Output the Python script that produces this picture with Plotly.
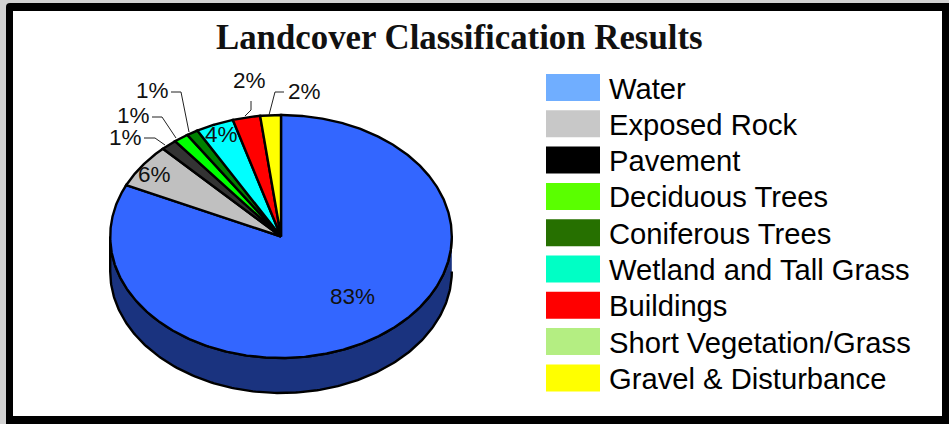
import numpy as np
import plotly.graph_objects as go

# --- data ---
categories = ["Water", "Exposed Rock", "Pavement", "Deciduous Trees", "Coniferous Trees",
              "Wetland and Tall Grass", "Buildings", "Short Vegetation/Grass", "Gravel & Disturbance"]
shares = [82.0, 5.9, 1.5, 1.4, 1.1, 3.6, 2.6, 0.0, 1.95]
share_labels = ["83%", "6%", "1%", "1%", "1%", "4%", "2%", "", "2%"]
slice_colors = ["#3366FF", "#C0C0C0", "#333333", "#00FF00", "#008000", "#00FFFF", "#FF0000", "#CCFFCC", "#FFFF00"]
legend_colors = ["#70AEFF", "#C8C8C8", "#000000", "#5AFF00", "#267000", "#00FFC5", "#FF0000", "#B4EE82", "#FFFF00"]
side_color = "#1A337F"
title_text = "Landcover Classification Results"

# --- layout constants (pixels) ---
W, H = 949, 424
CX, CY, RX, RY, DEPTH = 281.0, 236.5, 170.8, 121.5, 35.0
LABEL_POS = {0: (352, 296), 1: (154, 174), 2: (125, 137), 3: (133, 115), 4: (152, 90),
             5: (221, 134), 6: (249, 80), 8: (304, 91)}
LEADERS = {2: [(144, 138), (155, 138), (165, 145)],
           3: [(152, 117), (162, 117), (176, 138)],
           4: [(171, 92), (181, 92), (189, 132)],
           6: [(251, 101), (251, 110), (245, 116)],
           8: [(284, 92), (275, 92), (269, 115)]}

fig = go.Figure()

def ell(t):
    return CX + RX * np.sin(t), CY - RY * np.cos(t)

# side wall
t = np.linspace(np.pi / 2, 3 * np.pi / 2, 200)
x, y = ell(t)
sx = np.concatenate([x, x[::-1]])
sy = np.concatenate([y, y[::-1] + DEPTH])
fig.add_trace(go.Scatter(x=sx, y=sy, mode="lines", fill="toself", fillcolor=side_color,
                         line=dict(color="black", width=2.4), hoverinfo="skip", showlegend=False))

# wedges run clockwise starting from the top, water first
total = sum(shares)
angle = 0.0
for name, v, c in zip(categories, shares, slice_colors):
    if v <= 0:
        continue
    a1 = angle + 2 * np.pi * v / total
    t = np.linspace(angle, a1, max(3, int(v * 8)))
    x, y = ell(t)
    fig.add_trace(go.Scatter(x=np.r_[CX, x, CX], y=np.r_[CY, y, CY], mode="lines", fill="toself",
                             fillcolor=c, line=dict(color="black", width=2.4), name=name,
                             hoverinfo="name", showlegend=False))
    angle = a1

# leader lines
for pts in LEADERS.values():
    fig.add_trace(go.Scatter(x=[p[0] for p in pts], y=[p[1] for p in pts], mode="lines",
                             line=dict(color="#222222", width=1), hoverinfo="skip", showlegend=False))

# percentage labels
for i, pos in LABEL_POS.items():
    fig.add_annotation(x=pos[0], y=pos[1], text=share_labels[i], showarrow=False,
                       font=dict(family="Liberation Sans", size=22.5, color="#111111"))

# legend
for i, (name, c) in enumerate(zip(categories, legend_colors)):
    top = 74.0 + i * 36.3
    fig.add_shape(type="rect", x0=546, x1=600, y0=top, y1=top + 27, fillcolor=c, line_width=0)
    fig.add_annotation(x=607, y=top + 14.5, text=name, showarrow=False, xanchor="left",
                       font=dict(family="Liberation Sans", size=29.2, color="black"))

fig.add_annotation(x=459.5, y=37, text="<b>%s</b>" % title_text, showarrow=False,
                   font=dict(family="Liberation Serif", size=34.8, color="#111111"))

# frame: black rounded plate with a white panel on top
fig.add_shape(type="path", path="M 6 7 Q 6 3 10 3 L 955 3 L 955 430 L 10 430 Q 6 430 6 426 Z",
              fillcolor="black", line_width=0, layer="below")
fig.add_shape(type="rect", x0=13, x1=942, y0=11, y1=416, fillcolor="white", line_width=0, layer="below")

fig.update_layout(width=W, height=H, margin=dict(l=0, r=0, t=0, b=0), paper_bgcolor="#D2D2D2",
                  plot_bgcolor="rgba(0,0,0,0)", showlegend=False,
                  xaxis=dict(range=[0, W], visible=False, fixedrange=True),
                  yaxis=dict(range=[H, 0], visible=False, fixedrange=True))
fig.write_html("out.html", config={"displayModeBar": False},
               post_script="document.body.style.margin='0';document.body.style.overflow='hidden';")
